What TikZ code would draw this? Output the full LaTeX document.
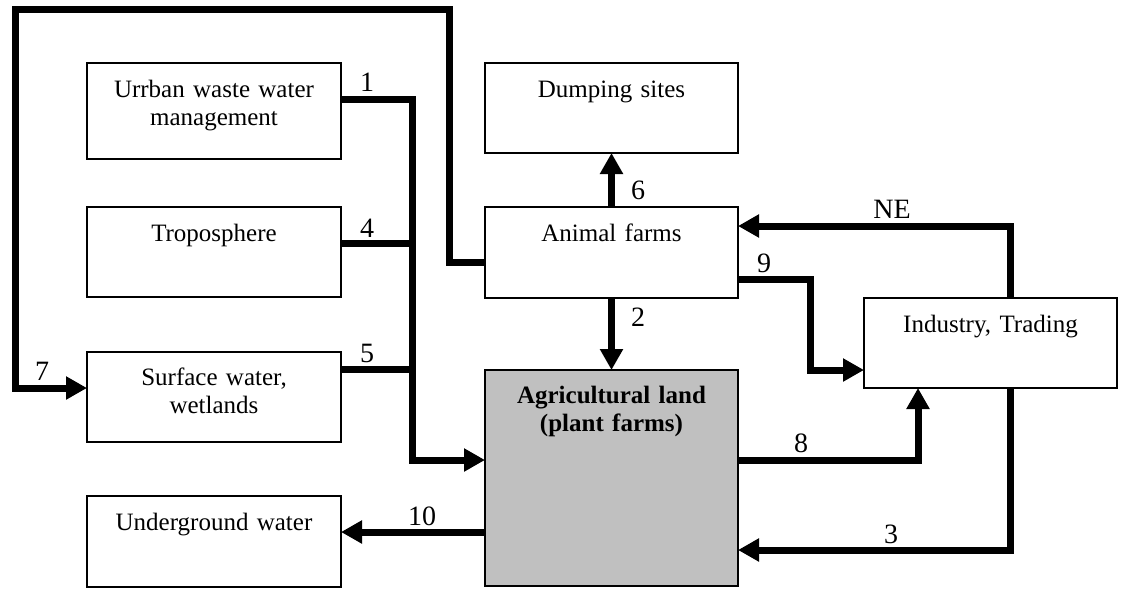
\documentclass[tikz,border=0pt]{standalone}
\usepackage{fontspec}
\setmainfont{Liberation Serif}
\usetikzlibrary{arrows.meta}
\begin{document}
\begin{tikzpicture}[x=1pt,y=-1pt,
  box/.style={draw=black, line width=1.5pt, fill=white, inner sep=0pt, outer sep=0pt},
  graybox/.style={box, fill=agrigray},
  txt/.style={inner sep=0pt, text width=240pt, align=center, font=\fontsize{25}{28.5}\selectfont, anchor=base},
  lbl/.style={inner sep=0pt, font=\fontsize{28}{30}\selectfont, anchor=base},
  flow/.style={line width=7pt, line join=miter},
  arr/.style={-{Triangle[length=21pt,width=22pt]}}
]
\definecolor{agrigray}{HTML}{C0C0C0}
\useasboundingbox (0,0) rectangle (1123,590);

% boxes
\node[box, minimum width=254pt, minimum height=96pt] (urban) at (214,111) {};
\node[box, minimum width=254pt, minimum height=90pt] (tropo) at (214,252) {};
\node[box, minimum width=254pt, minimum height=90pt] (surface) at (214,397) {};
\node[box, minimum width=254pt, minimum height=91pt] (under) at (214,541.5) {};
\node[box, minimum width=253pt, minimum height=90pt] (dump) at (611.5,108) {};
\node[box, minimum width=253pt, minimum height=91pt] (animal) at (611.5,252.5) {};
\node[graybox, minimum width=253pt, minimum height=216pt] (agri) at (611.5,478) {};
\node[box, minimum width=253pt, minimum height=90pt] (industry) at (990.5,343) {};

% box texts
\node[txt] (urbanT) at ([yshift=-34pt]urban.north) {Urrban waste water\\management};
\node[txt] (tropoT) at ([yshift=-34pt]tropo.north) {Troposphere};
\node[txt] (surfaceT) at ([yshift=-33pt]surface.north) {Surface water,\\wetlands};
\node[txt] (underT) at ([yshift=-34pt]under.north) {Underground water};
\node[txt] (dumpT) at ([yshift=-34pt]dump.north) {Dumping sites};
\node[txt] (animalT) at ([yshift=-34pt]animal.north) {Animal farms};
\node[txt] (agriT) at ([yshift=-33pt]agri.north) {\textbf{Agricultural land}\\\textbf{(plant farms)}};
\node[txt] (industryT) at ([yshift=-34pt]industry.north) {Industry, Trading};

% collector bus (1, 4, 5)
\coordinate (b1) at (412,99);
\coordinate (b2) at (412,460);
\coordinate (b4) at (412,243);
\coordinate (b5) at (412,369);
\draw[flow,arr] (urban.east |- b1) -- (b1) -- (b2) -- (agri.west |- b2);
\draw[flow] (tropo.east |- b4) -- (b4);
\draw[flow] (surface.east |- b5) -- (b5);

% 6 and 2
\draw[flow,arr] (animal.north) -- (dump.south);
\draw[flow,arr] (animal.south) -- (agri.north);

% 7 loop
\coordinate (l7a) at (449,262);
\coordinate (l7b) at (449,9.5);
\coordinate (l7c) at (15.5,9.5);
\coordinate (l7d) at (15.5,388);
\draw[flow,arr] (animal.west |- l7a) -- (l7a) -- (l7b) -- (l7c) -- (l7d) -- (surface.west |- l7d);

% NE
\coordinate (ne) at (1010,226);
\draw[flow,arr] (industry.north -| ne) -- (ne) -- (animal.east |- ne);

% 9
\coordinate (c9a) at (810,279);
\coordinate (c9b) at (810,370);
\draw[flow,arr] (animal.east |- c9a) -- (c9a) -- (c9b) -- (industry.west |- c9b);

% 8
\coordinate (c8) at (918,460);
\draw[flow,arr] (agri.east |- c8) -- (c8) -- (industry.south -| c8);

% 3
\coordinate (c3) at (1010,550);
\draw[flow,arr] (industry.south -| c3) -- (c3) -- (agri.east |- c3);

% 10
\coordinate (c10) at (412,532);
\draw[flow,arr] (agri.west |- c10) -- (under.east |- c10);

% labels
\node[lbl] (t1) at (367,91) {1};
\node[lbl] (t4) at (367,237) {4};
\node[lbl] (t5) at (367,362) {5};
\node[lbl] (t6) at (638,199) {6};
\node[lbl] (tNE) at (892,218) {NE};
\node[lbl] (t9) at (764,272) {9};
\node[lbl] (t2) at (638,326) {2};
\node[lbl] (t8) at (801,452) {8};
\node[lbl] (t3) at (891,543) {3};
\node[lbl] (t7) at (42,380) {7};
\node[lbl] (t10) at (422,525) {10};
\end{tikzpicture}
\end{document}
